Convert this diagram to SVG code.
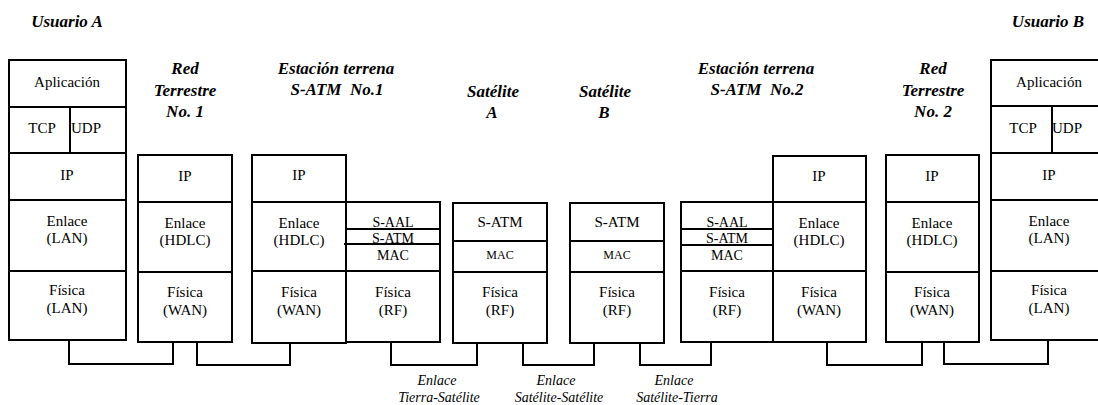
<svg xmlns="http://www.w3.org/2000/svg" width="1098" height="405" viewBox="0 0 1098 405" font-family="'Liberation Serif', 'DejaVu Serif', serif">
<style>
.b{fill:#fff;stroke:#000;stroke-width:2}
.l{fill:none;stroke:#000;stroke-width:2}
text{font-family:'Liberation Serif','DejaVu Serif',serif}
.t{font-size:15px;fill:#000;text-anchor:middle}
.s{font-size:14px}
.xs{font-size:12px}
.h{font-size:17px;font-weight:bold;font-style:italic;fill:#000;text-anchor:middle;white-space:pre}
.e{font-size:14px;font-style:italic;fill:#000;text-anchor:middle}
</style>
<rect width="1098" height="405" fill="#fff"/>

<g id="headers">
<text class="h" x="67" y="27">Usuario A</text>
<text class="h" x="1048" y="27">Usuario B</text>
<text class="h" x="185" y="74">Red</text>
<text class="h" x="185" y="96">Terrestre</text>
<text class="h" x="185" y="117">No. 1</text>
<text class="h" x="336" y="74">Estación terrena</text>
<text class="h" x="337" y="95" xml:space="preserve">S-ATM  No.1</text>
<text class="h" x="493" y="97">Satélite</text>
<text class="h" x="492" y="118">A</text>
<text class="h" x="605" y="97">Satélite</text>
<text class="h" x="604" y="118">B</text>
<text class="h" x="756" y="74">Estación terrena</text>
<text class="h" x="757" y="95" xml:space="preserve">S-ATM  No.2</text>
<text class="h" x="933" y="74">Red</text>
<text class="h" x="933" y="96">Terrestre</text>
<text class="h" x="933" y="117">No. 2</text>
</g>

<g id="usuarioA">
<rect class="b" x="9" y="60" width="117" height="280"/>
<line class="l" x1="9" y1="107" x2="126" y2="107"/>
<line class="l" x1="70" y1="107" x2="70" y2="153"/>
<line class="l" x1="9" y1="153" x2="126" y2="153"/>
<line class="l" x1="9" y1="200" x2="126" y2="200"/>
<line class="l" x1="9" y1="271" x2="126" y2="271"/>
<text class="t" x="67" y="87">Aplicación</text>
<text class="t" x="42" y="133">TCP</text>
<text class="t" x="86" y="133">UDP</text>
<text class="t" x="67" y="180">IP</text>
<text class="t" x="67" y="226">Enlace</text>
<text class="t" x="67" y="243">(LAN)</text>
<text class="t" x="67" y="295">Física</text>
<text class="t" x="67" y="313">(LAN)</text>
</g>

<g id="red1">
<rect class="b" x="138" y="155" width="94" height="187"/>
<line class="l" x1="138" y1="202" x2="232" y2="202"/>
<line class="l" x1="138" y1="272" x2="232" y2="272"/>
<text class="t" x="185" y="181">IP</text>
<text class="t" x="185" y="228">Enlace</text>
<text class="t" x="185" y="245">(HDLC)</text>
<text class="t" x="185" y="297">Física</text>
<text class="t" x="185" y="315">(WAN)</text>
</g>

<g id="estacion1">
<rect class="b" x="252" y="155" width="94" height="188"/>
<line class="l" x1="252" y1="202" x2="346" y2="202"/>
<line class="l" x1="252" y1="271" x2="346" y2="271"/>
<rect class="b" x="346" y="202" width="94" height="140"/>
<line class="l" x1="346" y1="229" x2="440" y2="229"/>
<line class="l" x1="344" y1="244" x2="440" y2="244"/>
<line class="l" x1="346" y1="271" x2="440" y2="271"/>
<text class="t" x="299" y="180">IP</text>
<text class="t" x="299" y="228">Enlace</text>
<text class="t" x="299" y="245">(HDLC)</text>
<text class="t" x="299" y="297">Física</text>
<text class="t" x="299" y="315">(WAN)</text>
<text class="t s" x="393" y="227">S-AAL</text>
<text class="t s" x="393" y="243">S-ATM</text>
<text class="t s" x="393" y="260">MAC</text>
<text class="t" x="393" y="297">Física</text>
<text class="t" x="393" y="315">(RF)</text>
</g>

<g id="sateliteA">
<rect class="b" x="453" y="203" width="94" height="140"/>
<line class="l" x1="453" y1="241" x2="547" y2="241"/>
<line class="l" x1="453" y1="272" x2="547" y2="272"/>
<text class="t" x="500" y="227">S-ATM</text>
<text class="t xs" x="500" y="259">MAC</text>
<text class="t" x="500" y="297">Física</text>
<text class="t" x="500" y="315">(RF)</text>
</g>

<g id="sateliteB">
<rect class="b" x="570" y="203" width="94" height="140"/>
<line class="l" x1="570" y1="241" x2="664" y2="241"/>
<line class="l" x1="570" y1="272" x2="664" y2="272"/>
<text class="t" x="617" y="227">S-ATM</text>
<text class="t xs" x="617" y="259">MAC</text>
<text class="t" x="617" y="297">Física</text>
<text class="t" x="617" y="315">(RF)</text>
</g>

<g id="estacion2">
<rect class="b" x="681" y="202" width="92" height="140"/>
<line class="l" x1="681" y1="229" x2="775" y2="229"/>
<line class="l" x1="681" y1="245" x2="775" y2="245"/>
<line class="l" x1="681" y1="271" x2="773" y2="271"/>
<rect class="b" x="773" y="156" width="93" height="186"/>
<line class="l" x1="773" y1="202" x2="866" y2="202"/>
<line class="l" x1="773" y1="271" x2="866" y2="271"/>
<text class="t s" x="727" y="227">S-AAL</text>
<text class="t s" x="727" y="243">S-ATM</text>
<text class="t s" x="727" y="260">MAC</text>
<text class="t" x="727" y="297">Física</text>
<text class="t" x="727" y="315">(RF)</text>
<text class="t" x="819" y="181">IP</text>
<text class="t" x="819" y="228">Enlace</text>
<text class="t" x="819" y="245">(HDLC)</text>
<text class="t" x="819" y="297">Física</text>
<text class="t" x="819" y="315">(WAN)</text>
</g>

<g id="red2">
<rect class="b" x="886" y="155" width="93" height="187"/>
<line class="l" x1="886" y1="202" x2="979" y2="202"/>
<line class="l" x1="886" y1="272" x2="979" y2="272"/>
<text class="t" x="932" y="181">IP</text>
<text class="t" x="932" y="228">Enlace</text>
<text class="t" x="932" y="245">(HDLC)</text>
<text class="t" x="932" y="297">Física</text>
<text class="t" x="932" y="315">(WAN)</text>
</g>

<g id="usuarioB">
<rect class="b" x="991" y="60" width="117" height="280"/>
<line class="l" x1="991" y1="106" x2="1098" y2="106"/>
<line class="l" x1="1052" y1="106" x2="1052" y2="153"/>
<line class="l" x1="991" y1="153" x2="1098" y2="153"/>
<line class="l" x1="991" y1="200" x2="1098" y2="200"/>
<line class="l" x1="991" y1="271" x2="1098" y2="271"/>
<text class="t" x="1049" y="87">Aplicación</text>
<text class="t" x="1023" y="133">TCP</text>
<text class="t" x="1067" y="133">UDP</text>
<text class="t" x="1049" y="180">IP</text>
<text class="t" x="1049" y="226">Enlace</text>
<text class="t" x="1049" y="243">(LAN)</text>
<text class="t" x="1049" y="295">Física</text>
<text class="t" x="1049" y="313">(LAN)</text>
</g>

<g id="connectors">
<polyline class="l" points="69,340 69,364 173,364 173,342"/>
<polyline class="l" points="197,342 197,365 290,365 290,343"/>
<polyline class="l" points="391,342 391,365 477,365 477,343"/>
<polyline class="l" points="523,343 523,365 594,365 594,343"/>
<polyline class="l" points="640,343 640,365 711,365 711,342"/>
<polyline class="l" points="827,342 827,365 922,365 922,342"/>
<polyline class="l" points="944,342 944,364 1048,364 1048,340"/>
</g>

<g id="link-labels">
<text class="e" x="437" y="385">Enlace</text>
<text class="e" x="439" y="402">Tierra-Satélite</text>
<text class="e" x="556" y="385">Enlace</text>
<text class="e" x="559" y="402">Satélite-Satélite</text>
<text class="e" x="674" y="385">Enlace</text>
<text class="e" x="677" y="402">Satélite-Tierra</text>
</g>
</svg>
